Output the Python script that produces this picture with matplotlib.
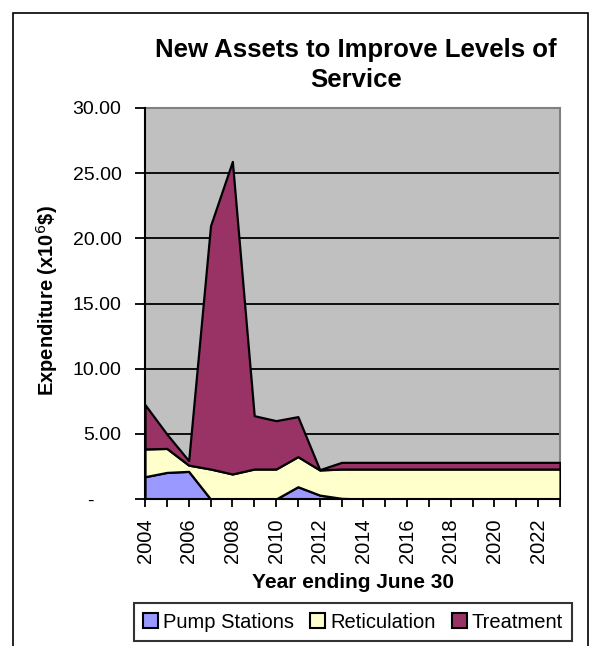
import matplotlib
matplotlib.use('Agg')
import matplotlib.pyplot as plt
from matplotlib.patches import Rectangle, Patch
from matplotlib.ticker import FuncFormatter

years = list(range(2004, 2024))
pump_stations = [1.71, 2.04, 2.12, 0, 0, 0, 0, 0.94, 0.30, 0.05,
                 0, 0, 0, 0, 0, 0, 0, 0, 0, 0]
reticulation = [2.13, 1.84, 0.48, 2.30, 1.92, 2.30, 2.30, 2.31, 1.93, 2.25,
                2.30, 2.30, 2.30, 2.30, 2.30, 2.30, 2.30, 2.30, 2.30, 2.30]
treatment = [3.40, 1.10, 0.34, 18.67, 23.98, 4.09, 3.71, 3.07, 0.02, 0.51,
             0.51, 0.51, 0.51, 0.51, 0.51, 0.51, 0.51, 0.51, 0.51, 0.51]
series_names = ['Pump Stations', 'Reticulation', 'Treatment']
colors = ['#9999FF', '#FFFFCC', '#993366']

plt.rcParams['font.family'] = ['Liberation Sans', 'DejaVu Sans']

W, H = 592, 646
fig = plt.figure(figsize=(W / 100, H / 100), dpi=100)
fig.patches.append(Rectangle((13 / W, -0.01), 575 / W, 1 - 13 / H + 0.01,
                             transform=fig.transFigure, fill=False,
                             edgecolor='black', linewidth=1.2))

ax = fig.add_axes([145 / W, 1 - 499 / H, 415 / W, 391 / H])
ax.set_facecolor('#C0C0C0')
ax.stackplot(years, pump_stations, reticulation, treatment,
             colors=colors, edgecolor='black', linewidth=1.6, zorder=3)

ax.set_xlim(2004, 2023)
ax.set_ylim(0, 30)
ax.set_yticks(range(0, 31, 5))
# Excel style accounting format: zero shows as a dash set in from the right
ax.yaxis.set_major_formatter(FuncFormatter(lambda v, p: '-     ' if v == 0 else f'{v:.2f}'))
ax.set_xticks(years)
ax.set_xticklabels([str(y) if y % 2 == 0 else '' for y in years], rotation=90)
ax.grid(axis='y', color='black', linewidth=1.3, zorder=1)
ax.set_axisbelow(True)
ax.tick_params(axis='y', direction='out', length=7, width=1.3, labelsize=14, pad=10)
ax.tick_params(axis='x', direction='out', length=6, width=1.3, labelsize=14.5, pad=8)

for s in ['left', 'bottom']:
    ax.spines[s].set_linewidth(1.5)
    ax.spines[s].set_zorder(5)
for s in ['top', 'right']:
    ax.spines[s].set_color('#808080')
    ax.spines[s].set_linewidth(1.5)

fig.text(47 / W, 1 - 301 / H, 'Expenditure (x10$^{6}$\\$)', rotation=90,
         ha='center', va='center', fontsize=14.5, fontweight='bold')
fig.text(353 / W, 1 - 583 / H, 'Year ending June 30',
         ha='center', va='center', fontsize=15, fontweight='bold')
fig.text(356 / W, 1 - 65 / H, 'New Assets to Improve Levels of\nService',
         ha='center', va='center', fontsize=18.5, fontweight='bold', linespacing=1.3)

handles = [Patch(facecolor=c, edgecolor='black', linewidth=1.5) for c in colors]
leg = fig.legend(handles, series_names, loc='center', ncol=3,
                 bbox_to_anchor=(353 / W, 1 - 622 / H), fontsize=14.5,
                 frameon=True, fancybox=False, edgecolor='black',
                 handlelength=0.75, handleheight=0.75, handletextpad=0.25,
                 columnspacing=0.8, borderpad=0.45, borderaxespad=0)
leg.get_frame().set_linewidth(1.5)

fig.savefig('out.png', dpi=100)
